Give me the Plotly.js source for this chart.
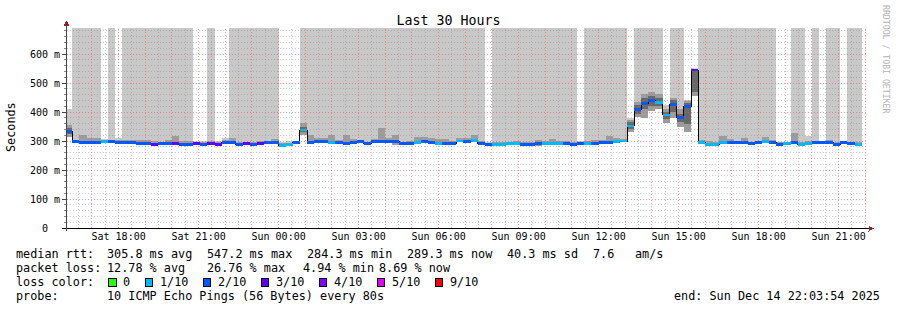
<!DOCTYPE html>
<html><head><meta charset="utf-8">
<script src="https://cdn.plot.ly/plotly-3.0.1.min.js"></script>
<style>
html,body{margin:0;padding:0;background:#fff;}
#chart{width:897px;height:310px;}
.js-line,.shapelayer path{shape-rendering:crispEdges;}
</style>
</head><body><div id="chart"></div>
<script>
// ---------- data (one entry per 16-minute step, first step starts Sat 16:00) ----------
const medianRtt = [333,298,296,294,296,299,297,296,296,295,293,293,288,290,292,293,289,289,291,289,
  290,288,296,296,289,290,287,293,294,294,286,287,294,338,294,297,297,296,294,293,
  296,297,290,297,298,298,299,290,292,296,297,295,293,291,291,300,298,302,291,289,
  289,289,290,293,289,289,293,291,291,293,292,288,293,291,293,295,296,299,300,352,
  408,430,439,434,390,425,380,418,545,296,288,288,296,295,294,294,290,294,298,296,
  289,290,295,288,290,294,294,294,288,295,293,289];
const lossCount = [2,2,2,2,2,1,2,2,2,2,2,2,3,2,2,3,2,2,3,2,
  3,3,2,2,2,3,2,3,2,2,1,1,2,1,2,2,2,1,2,2,
  2,2,2,2,2,2,2,2,2,1,2,2,1,2,2,1,2,1,2,2,
  1,1,1,1,2,2,2,1,1,1,2,2,2,1,2,2,2,1,1,1,
  2,2,2,1,1,2,2,2,3,1,1,1,1,2,2,2,2,2,1,2,
  2,1,2,1,1,2,2,2,2,2,2,1];
const smokeLow = [315,293,291,289,290,294,292,292,291,290,288,288,284,285,287,288,285,285,287,285,
  286,284,291,291,285,286,283,288,289,289,282,283,290,322,289,292,292,291,289,288,
  291,292,286,292,293,293,287,286,287,291,292,290,288,287,287,295,293,297,287,285,
  285,285,286,288,285,285,283,287,287,288,288,284,288,287,288,290,291,294,295,330,
  383,381,405,410,362,380,350,332,455,291,284,284,291,290,289,289,286,289,293,291,
  285,286,290,284,286,289,289,289,284,290,288,285];
const smokeHigh = [355,302,320,309,310,304,304,305,302,302,305,305,300,298,304,317,300,300,298,297,
  300,297,303,310,298,298,296,300,300,306,292,294,298,362,322,310,310,320,305,320,
  306,304,298,306,346,310,320,296,300,314,314,310,308,306,300,310,312,320,300,294,
  296,298,297,300,296,298,304,300,306,300,299,296,298,300,302,304,318,310,306,372,
  434,464,468,462,410,450,410,438,550,305,300,298,317,307,300,310,298,300,313,305,
  296,296,327,296,300,300,298,305,296,298,298,296];
// highest ping of the step; null = above the graph (drawn to the top)
const smokeTop = [410,null,null,null,null,306,null,311,null,null,null,null,null,null,null,null,null,null,300,300,
  null,299,310,null,null,null,null,null,null,null,298,300,299,null,null,null,null,null,null,null,
  null,null,null,null,null,null,null,null,null,null,null,null,null,null,null,null,null,null,null,296,
  null,null,null,null,null,null,null,null,null,null,null,null,300,null,null,null,null,null,null,380,
  null,null,null,null,424,null,null,440,552,null,null,null,null,null,null,null,null,null,null,null,
  298,298,null,null,318,null,300,null,null,300,null,null];
// dense core of the smoke, for the steps where it is visible
const coreSteps = [0,33,79,80,81,82,83,84,85,86,87,88];
const coreLow  = [325,330,340,395,410,420,420,375,400,365,360,470];
const coreHigh = [345,350,365,425,450,455,450,400,440,395,430,548];

const lossThresholds = [0,1,2,3,4,5,9];
const lossLabels = ['0','1/10','2/10','3/10','4/10','5/10','9/10'];
const lossColors = ['#26ff00','#00b8ff','#0059ff','#5e00ff','#7e00ff','#dd00ff','#ff0000'];

const yTickVals = [0,100,200,300,400,500,600];
const yTickText = ['0\u00a0\u00a0','100 m','200 m','300 m','400 m','500 m','600 m'];
const xTickText = ['Sat 18:00','Sat 21:00','Sun 00:00','Sun 03:00','Sun 06:00','Sun 09:00','Sun 12:00','Sun 15:00','Sun 18:00','Sun 21:00'];

const rttStatValues = ['305.8','547.2','284.3','289.3'];
const rttStatNames = ['avg','max','min','now'];
const rttSd = '40.3';
const rttAmS = '7.6';
const lossStatValues = ['12.78','26.76','4.94','8.69'];
const probeText = '10 ICMP Echo Pings (56 Bytes) every 80s';
const endText = 'end: Sun Dec 14 22:03:54 2025';

// ---------- time grid ----------
const STEP_MS = 16*60*1000;
const HOUR = 3600*1000;
const firstStepStart = Date.UTC(2025,11,13,16,0,0);
const rangeStart = Date.UTC(2025,11,13,16,3,54);
const rangeEnd = Date.UTC(2025,11,14,22,3,54);
const Y_TOP = 690;

const n = medianRtt.length;
const starts = medianRtt.map((_, i) => firstStepStart + i*STEP_MS);
const centers = starts.map(t => t + STEP_MS/2);

function lossColor(c){ let k=0; lossThresholds.forEach((t,i)=>{ if(c>=t) k=i; }); return lossColors[k]; }

const MONO = 'DejaVu Sans Mono';
const traces = [];
// lightest smoke (up to highest ping or off-scale)
traces.push({type:'bar', x:centers, base:smokeHigh,
  y:smokeHigh.map((h,i)=> (smokeTop[i]===null ? Y_TOP : smokeTop[i]) - h),
  width:STEP_MS, marker:{color:'#c8c8c8', line:{width:0}}, hoverinfo:'skip'});
traces.push({type:'bar', x:centers, base:smokeLow, y:smokeHigh.map((h,i)=>h-smokeLow[i]),
  width:STEP_MS, marker:{color:'#9c9c9c', line:{width:0}}, hoverinfo:'skip'});
traces.push({type:'bar', x:coreSteps.map(i=>centers[i]), base:coreLow, y:coreHigh.map((h,i)=>h-coreLow[i]),
  width:STEP_MS, marker:{color:'#686868', line:{width:0}}, hoverinfo:'skip'});

// grid (drawn over the smoke, like rrdtool)
function vgrid(times){ const x=[],y=[]; times.forEach(t=>{x.push(t,t,null); y.push(0,Y_TOP,null);}); return {x,y}; }
function hgrid(vals){ const x=[],y=[]; vals.forEach(v=>{x.push(rangeStart,rangeEnd,null); y.push(v,v,null);}); return {x,y}; }
const hourTimes=[], halfTimes=[];
for(let t=Date.UTC(2025,11,13,16,30); t<rangeEnd; t+=HOUR/2){ if(t>rangeStart){ ((t % HOUR)===0 ? hourTimes : halfTimes).push(t); } }
const minorVals=[], majorVals=[];
for(let v=20; v<Y_TOP; v+=20){ (v%100===0 ? majorVals : minorVals).push(v); }
const gMinorV=vgrid(halfTimes), gMinorH=hgrid(minorVals), gMajorV=vgrid(hourTimes), gMajorH=hgrid(majorVals);
const minorLine={color:'rgba(130,130,130,0.42)', width:1, dash:'1px,2px'};
const majorLine={color:'rgba(240,90,90,0.62)', width:1, dash:'1px,2px'};
[gMinorV,gMinorH].forEach(g=>traces.push({type:'scatter',mode:'lines',x:g.x,y:g.y,line:minorLine,hoverinfo:'skip',connectgaps:false}));
[gMajorV,gMajorH].forEach(g=>traces.push({type:'scatter',mode:'lines',x:g.x,y:g.y,line:majorLine,hoverinfo:'skip',connectgaps:false}));

// median line
traces.push({type:'scatter', mode:'lines', x:starts.concat([starts[n-1]+STEP_MS]), y:medianRtt.concat([medianRtt[n-1]]),
  line:{color:'#000', width:1, shape:'hv'}, hoverinfo:'skip'});
// loss-coloured median marks, on an overlaid (identical) subplot so they sit on top
traces.push({type:'bar', xaxis:'x2', yaxis:'y2', x:centers, base:medianRtt.map(m=>m-5), y:medianRtt.map(()=>10), width:STEP_MS,
  marker:{color:lossCount.map(lossColor), line:{width:0}}, hoverinfo:'skip'});

// ---------- layout helpers (pixel -> paper) ----------
const L=67, T=28, W=800, H=200;
const px = v => (v-L)/W, py = v => (T+H-v)/H;
function txt(text, x, y, extra){ return Object.assign({xref:'paper', yref:'paper', x:px(x), y:py(y), text:text, showarrow:false,
  xanchor:'left', yanchor:'middle', borderpad:0, borderwidth:0, font:{family:MONO, size:11.8, color:'#000'}}, extra||{}); }

const annotations = [];
annotations.push(txt('Seconds', 11, 127, {xanchor:'center', textangle:-90}));
annotations.push(txt('RRDTOOL / TOBI OETIKER', 886, 59, {xanchor:'center', textangle:90, font:{family:MONO,size:8.2,color:'#b4b4b4'}}));
// row 1
annotations.push(txt('median rtt:', 16, 254));
const rttX=[107.3,207.3,307.3,407.3];
rttStatValues.forEach((v,i)=>annotations.push(txt(v+' ms '+rttStatNames[i], rttX[i], 254)));
annotations.push(txt(rttSd+' ms sd', 506.7, 254));
annotations.push(txt(rttAmS, 593.3, 254));
annotations.push(txt('am/s', 635, 254));
// row 2
annotations.push(txt('packet loss:', 16, 268));
const lossX=[107.3,207,302.7,379.3];
lossStatValues.forEach((v,i)=>annotations.push(txt(v+' % '+rttStatNames[i], lossX[i], 268)));
// row 3
annotations.push(txt('loss color:', 16, 282));
const shapes = [];
let bx = 108.7;
lossLabels.forEach((lab,i)=>{
  shapes.push({type:'rect', xref:'paper', yref:'paper', x0:px(bx), x1:px(bx+7.5), y0:py(278.5), y1:py(286.5),
    fillcolor:lossColors[i], line:{color:'#000', width:1}});
  annotations.push(txt(lab, bx+14.6, 282));
  bx = bx + 14.6 + lab.length*7.1 + 15;
});
// row 4
annotations.push(txt('probe:', 16, 296));
annotations.push(txt(probeText, 107.3, 296));
annotations.push(txt(endText, 880, 296, {xanchor:'right'}));

// axes with arrows
shapes.push({type:'line', xref:'paper', yref:'paper', x0:px(62), x1:px(869), y0:py(228.5), y1:py(228.5), line:{color:'#000', width:1}});
shapes.push({type:'line', xref:'paper', yref:'paper', x0:px(66.5), x1:px(66.5), y0:py(231), y1:py(24), line:{color:'#444', width:1}});
shapes.push({type:'path', xref:'paper', yref:'paper', path:`M${px(66.5)},${py(20.5)} L${px(63.5)},${py(26)} L${px(69.5)},${py(26)} Z`, fillcolor:'#962020', line:{width:0}});
shapes.push({type:'path', xref:'paper', yref:'paper', path:`M${px(874)},${py(228.5)} L${px(868.5)},${py(225.5)} L${px(868.5)},${py(231.5)} Z`, fillcolor:'#962020', line:{width:0}});

const xTickVals = xTickText.map((_,i)=>Date.UTC(2025,11,13,18,0,0)+i*3*HOUR);

const layout = {
  width:897, height:310, margin:{l:L, r:897-L-W, t:T, b:310-T-H, pad:0},
  paper_bgcolor:'#fff', plot_bgcolor:'#fff', showlegend:false, barmode:'overlay', bargap:0,
  title:{text:'Last 30 Hours', font:{family:MONO, size:13.3, color:'#000'}, x:0.5, xanchor:'center', xref:'container', y:1-20/310, yanchor:'middle', yref:'container'},
  xaxis:{type:'date', range:[rangeStart, rangeEnd], showgrid:false, zeroline:false, showline:false,
    tickmode:'array', tickvals:xTickVals, ticktext:xTickText, ticks:'', ticklabelstandoff:1, tickfont:{family:MONO, size:10, color:'#000'}, fixedrange:true},
  yaxis:{range:[0,Y_TOP], showgrid:false, zeroline:false, showline:false, tickmode:'array', tickvals:yTickVals, ticktext:yTickText,
    ticks:'outside', ticklen:4, tickcolor:'#444', tickfont:{family:MONO, size:10, color:'#000'},
    minor:{tickmode:'linear', tick0:0, dtick:20, ticks:'outside', ticklen:2, tickcolor:'#888', showgrid:false}, fixedrange:true},
  xaxis2:{type:'date', overlaying:'x', range:[rangeStart, rangeEnd], visible:false, fixedrange:true},
  yaxis2:{overlaying:'y', range:[0,Y_TOP], visible:false, fixedrange:true},
  shapes:shapes, annotations:annotations
};
Plotly.newPlot('chart', traces, layout, {staticPlot:true, displayModeBar:false});
</script>
</body></html>
